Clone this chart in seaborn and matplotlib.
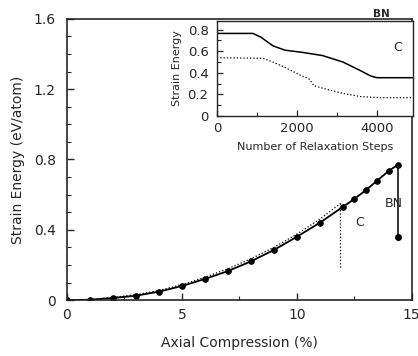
import numpy as np
import pandas as pd
import matplotlib
matplotlib.use('Agg')
import matplotlib.pyplot as plt
from matplotlib.ticker import MultipleLocator
import seaborn as sns

# ── Data ──────────────────────────────────────────────────────────────────────
bn_x = [0, 1, 2, 3, 4, 5, 6, 7, 8, 9, 10, 11, 12, 12.5, 13, 13.5, 14, 14.4]
bn_e = [0, 0.002, 0.012, 0.025, 0.048, 0.08, 0.12, 0.165, 0.22, 0.285,
        0.36, 0.44, 0.53, 0.575, 0.625, 0.68, 0.735, 0.77]
bn_relaxed = 0.36

c_x = [0, 1, 2, 3, 4, 5, 6, 7, 8, 9, 10, 11, 11.9]
c_e = [0, 0.003, 0.016, 0.03, 0.055, 0.088, 0.13, 0.178, 0.235, 0.3,
       0.375, 0.46, 0.55]
c_relaxed = 0.18

steps_bn = [0, 900, 1100, 1400, 1700, 2130, 2640, 3150, 3590, 3850, 4000, 4900]
inset_bn = [0.765, 0.765, 0.73, 0.65, 0.61, 0.59, 0.56, 0.50, 0.42, 0.37, 0.355, 0.355]
steps_c = [0, 1150, 1400, 1700, 2130, 2300, 2430, 2720, 3150, 3590, 4100, 4900]
inset_c = [0.54, 0.535, 0.50, 0.45, 0.37, 0.345, 0.28, 0.25, 0.21, 0.18, 0.17, 0.17]

# ── Style ─────────────────────────────────────────────────────────────────────
sns.set_style('ticks')
plt.rcParams['font.family'] = ['DejaVu Sans']
plt.rcParams['xtick.direction'] = 'in'
plt.rcParams['ytick.direction'] = 'in'

fig = plt.figure(figsize=(4.18, 3.56), dpi=100)
ax = fig.add_axes([0.160, 0.157, 0.825, 0.790])

sns.lineplot(x=c_x, y=c_e, ax=ax, color='black', lw=0.9, linestyle=':')
ax.plot([c_x[-1], c_x[-1]], [c_e[-1], c_relaxed], color='black', lw=0.9, linestyle=':')
sns.lineplot(x=bn_x, y=bn_e, ax=ax, color='black', lw=1.3,
             marker='o', markersize=4, markeredgecolor='black')
ax.plot([bn_x[-1], bn_x[-1]], [bn_e[-1], bn_relaxed], color='black', lw=1.1,
        marker='o', markersize=4, markevery=[1])

ax.text(12.55, 0.44, 'C', fontsize=9, ha='left', va='center')
ax.text(14.2, 0.55, 'BN', fontsize=9, ha='center', va='center')

ax.set_xlim(0, 15)
ax.set_ylim(0, 1.6)
ax.set_xticks([0, 5, 10, 15])
ax.set_yticks([0, 0.4, 0.8, 1.2, 1.6])
ax.set_yticklabels(['0', '0.4', '0.8', '1.2', '1.6'])
ax.xaxis.set_minor_locator(MultipleLocator(2.5))
ax.yaxis.set_minor_locator(MultipleLocator(0.1))
ax.tick_params(which='major', length=5, width=1, labelsize=10)
ax.tick_params(axis='x', which='major', pad=6)
ax.tick_params(axis='y', which='major', pad=8)
ax.tick_params(which='minor', length=3, width=0.8)
ax.set_xlabel('Axial Compression (%)', fontsize=10, labelpad=10)
ax.set_ylabel('Strain Energy (eV/atom)', fontsize=10, labelpad=6)
for s in ax.spines.values():
    s.set_linewidth(1.2)

# ── Inset ─────────────────────────────────────────────────────────────────────
ins = fig.add_axes([0.519, 0.674, 0.469, 0.267])
sns.lineplot(x=steps_bn, y=inset_bn, ax=ins, color='black', lw=1.1)
sns.lineplot(x=steps_c, y=inset_c, ax=ins, color='black', lw=0.9, linestyle=':')
ins.set_xlim(0, 4900)
ins.set_ylim(0, 0.88)
ins.set_xticks([0, 2000, 4000])
ins.set_yticks([0, 0.2, 0.4, 0.6, 0.8])
ins.set_yticklabels(['0', '0.2', '0.4', '0.6', '0.8'])
ins.xaxis.set_minor_locator(MultipleLocator(1000))
ins.yaxis.set_minor_locator(MultipleLocator(0.1))
ins.tick_params(which='major', length=4, width=0.9, labelsize=9.5)
ins.tick_params(axis='x', which='major', pad=4)
ins.tick_params(axis='y', which='major', pad=6)
ins.tick_params(which='minor', length=3, width=0.8)
ins.set_xlabel('Number of Relaxation Steps', fontsize=8, labelpad=5)
ins.set_ylabel('Strain Energy', fontsize=8, labelpad=4)
ins.text(0.92, 0.72, 'C', transform=ins.transAxes, fontsize=9, ha='center', va='center')
ins.text(0.84, 1.02, 'BN', transform=ins.transAxes, fontsize=7.5,
         fontweight='bold', ha='center', va='bottom')
for s in ins.spines.values():
    s.set_linewidth(1.0)

fig.savefig('out.png', dpi=100)
